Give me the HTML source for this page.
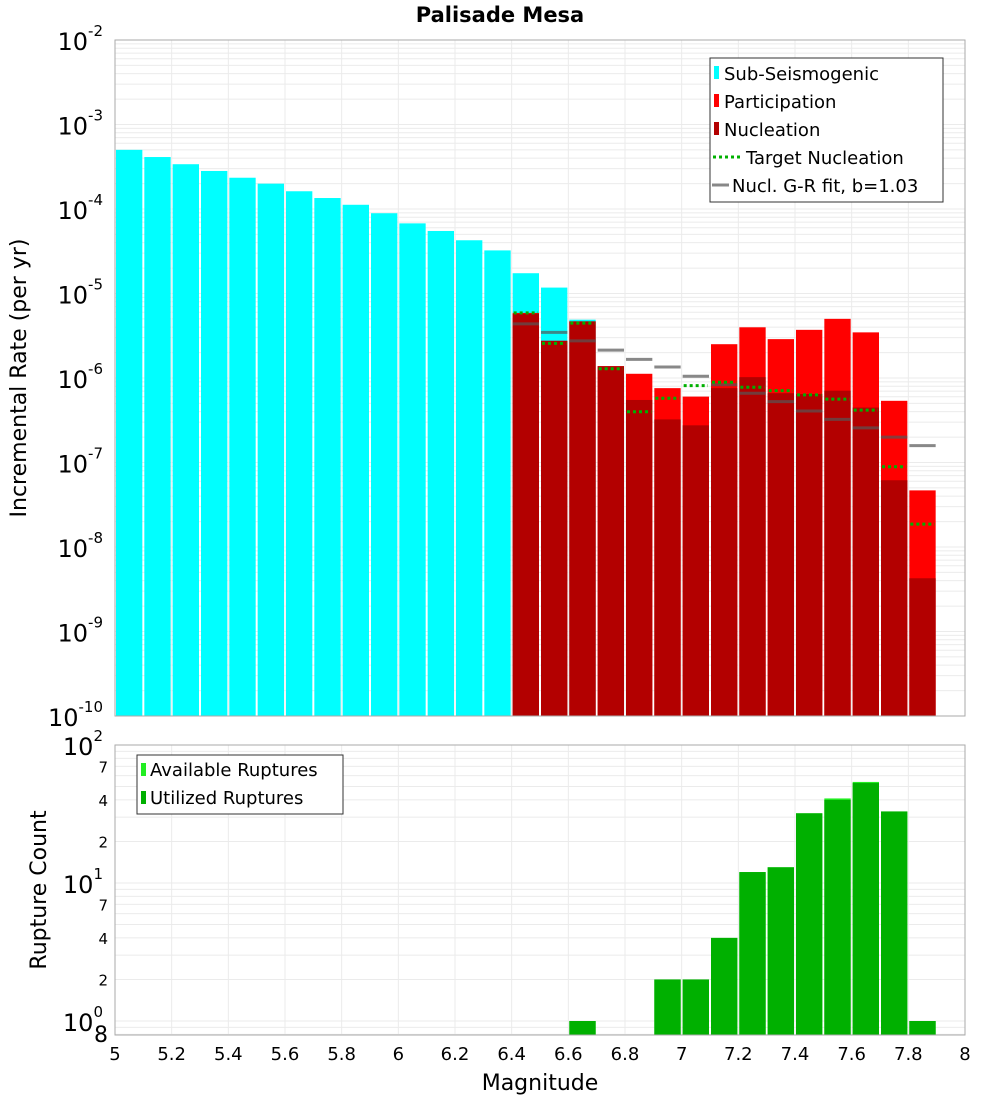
<!DOCTYPE html>
<html><head><meta charset="utf-8"><style>
body{margin:0;background:#fff;}
svg{display:block;font-family:"DejaVu Sans","Liberation Sans",sans-serif;}
</style></head><body>
<svg id="chart" width="1000" height="1100" viewBox="0 0 1000 1100" xmlns="http://www.w3.org/2000/svg">
<text x="500" y="22" text-anchor="middle" font-size="21" font-weight="bold">Palisade Mesa</text>
<g id="topg"></g>
<g id="botg"></g>
</svg>
<script>
const mags=[5.0,5.1,5.2,5.3,5.4,5.5,5.6,5.7,5.8,5.9,6.0,6.1,6.2,6.3,6.4,6.5,6.6,6.7,6.8,6.9,7.0,7.1,7.2,7.3,7.4,7.5,7.6,7.7,7.8];
const subSeisLog=[-3.30,-3.385,-3.47,-3.55,-3.63,-3.70,-3.79,-3.87,-3.95,-4.05,-4.17,-4.26,-4.37,-4.49,-4.76,-4.93,-5.31];
const superMags=[6.4,6.5,6.6,6.7,6.8,6.9,7.0,7.1,7.2,7.3,7.4,7.5,7.6,7.7,7.8];
const participationLog=[-5.23,-5.56,-5.33,-5.86,-5.95,-6.12,-6.22,-5.60,-5.40,-5.54,-5.43,-5.30,-5.46,-6.27,-7.33];
const nucleationLog=[-5.24,-5.56,-5.33,-5.86,-6.26,-6.49,-6.56,-6.12,-5.99,-6.18,-6.19,-6.15,-6.35,-7.21,-8.37];
const targetLog=[-5.23,-5.59,-5.35,-5.89,-6.40,-6.24,-6.09,-6.05,-6.11,-6.15,-6.20,-6.25,-6.38,-7.05,-7.73];
const grLog=[-5.36,-5.46,-5.56,-5.67,-5.78,-5.87,-5.98,-6.08,-6.18,-6.28,-6.39,-6.49,-6.59,-6.70,-6.80];
const countMags=[6.6,6.9,7.0,7.1,7.2,7.3,7.4,7.5,7.6,7.7,7.8];
const availableCounts=[1,2,2,4,12,13,32,41,54,33,1];
const utilizedCounts=[1,2,2,4,12,13,32,40,53,33,1];
const xTicks=[5,5.2,5.4,5.6,5.8,6,6.2,6.4,6.6,6.8,7,7.2,7.4,7.6,7.8,8];

const NS="http://www.w3.org/2000/svg";
const X0=115,X1=965;
const xs=m=>X0+(m-5)*(X1-X0)/3;
const TY0=40,TY1=716;
const ty=l=>TY0+(-2-l)*(TY1-TY0)/8;
const BY0=745,BDEC=138;
const by=v=>BY0+(2-Math.log10(v))*BDEC;
const BY1=1035;
function mk(p,tag,at,txt){const e=document.createElementNS(NS,tag);for(const k in at)e.setAttribute(k,at[k]);if(txt!==undefined)e.textContent=txt;p.appendChild(e);return e;}
const topG=document.getElementById('topg'),botG=document.getElementById('botg');

for(let d=-10;d<-2;d++){for(let k=1;k<10;k++){const y=ty(d+Math.log10(k));const g=mk(topG,'line',{x1:X0,x2:X1,y1:y,y2:y,stroke:'#ebebeb','stroke-width':1});}}
xTicks.forEach(t=>{const g=mk(topG,'line',{x1:xs(t),x2:xs(t),y1:TY0,y2:TY1,stroke:'#ebebeb'});});
const bw=(X1-X0)/30;
function bar(p,m,yTop,yBot,fill,name){const r=mk(p,'rect',{x:xs(m)+1,y:yTop,width:bw-2,height:Math.max(0,yBot-yTop),fill:fill});}
subSeisLog.forEach((l,i)=>bar(topG,mags[i],ty(l),TY1,'#00ffff','sub-seismogenic-bar'));
participationLog.forEach((l,i)=>bar(topG,superMags[i],ty(l),TY1,'#ff0000','participation-bar'));
nucleationLog.forEach((l,i)=>bar(topG,superMags[i],ty(l),TY1,'#b30000','nucleation-bar'));
grLog.forEach((l,i)=>{const y=ty(l);const e=mk(topG,'line',{x1:xs(superMags[i])+1,x2:xs(superMags[i])+bw-1,y1:y,y2:y,stroke:'#555','stroke-opacity':0.7,'stroke-width':3});});
targetLog.forEach((l,i)=>{const y=ty(l);const e=mk(topG,'line',{x1:xs(superMags[i])+2,x2:xs(superMags[i])+bw-2,y1:y,y2:y,stroke:'#00b000','stroke-width':3,'stroke-dasharray':'3,3'});});
mk(topG,'rect',{x:X0,y:TY0,width:X1-X0,height:TY1-TY0,fill:'none',stroke:'#aaa',});
for(let d=-10;d<=-2;d++){const y=ty(d);const t=mk(topG,'text',{x:103,y:y+10,'text-anchor':'end','font-size':24});t.textContent='10';mk(t,'tspan',{dy:-14,'font-size':15},String(d));}
mk(topG,'text',{transform:'translate(26,378) rotate(-90)','text-anchor':'middle','font-size':22,},'Incremental Rate (per yr)');
const lg=mk(topG,'g',{});
mk(lg,'rect',{x:710,y:58,width:233,height:144,fill:'#fff',stroke:'#333'});
[['Sub-Seismogenic','#00ffff'],['Participation','#ff0000'],['Nucleation','#b30000']].forEach((e,i)=>{const y=73+i*28;mk(lg,'rect',{x:714,y:y-7,width:5,height:13,fill:e[1]});mk(lg,'text',{x:724,y:y+7,'font-size':18,},e[0]);});
mk(lg,'line',{x1:713,x2:740,y1:157,y2:157,stroke:'#00b000','stroke-width':3,'stroke-dasharray':'3,3'});
mk(lg,'text',{x:746,y:164,'font-size':18,},'Target Nucleation');
mk(lg,'line',{x1:712,x2:729,y1:185,y2:185,stroke:'#888','stroke-width':3});
mk(lg,'text',{x:732,y:192,'font-size':18,},'Nucl. G-R fit, b=1.03');

for(let d=-1;d<2;d++){for(let k=1;k<10;k++){const v=Math.pow(10,d)*k;if(v<0.79)continue;const y=by(v);mk(botG,'line',{x1:X0,x2:X1,y1:y,y2:y,stroke:'#ebebeb',});}}
xTicks.forEach(t=>mk(botG,'line',{x1:xs(t),x2:xs(t),y1:BY0,y2:BY1,stroke:'#ebebeb',}));
availableCounts.forEach((v,i)=>bar(botG,countMags[i],by(v),BY1,'#22ee22','available-bar'));
utilizedCounts.forEach((v,i)=>bar(botG,countMags[i],by(v),BY1,'#00b000','utilized-bar'));
mk(botG,'rect',{x:X0,y:BY0,width:X1-X0,height:BY1-BY0,fill:'none',stroke:'#aaa',});
[2,1,0].forEach(d=>{const y=by(Math.pow(10,d));const t=mk(botG,'text',{x:103,y:y+10,'text-anchor':'end','font-size':24});t.textContent='10';mk(t,'tspan',{dy:-14,'font-size':15},String(d));});
[[7,10],[4,10],[2,10],[7,1],[4,1],[2,1]].forEach(a=>{const v=a[0]*a[1];mk(botG,'text',{x:108,y:by(v)+6,'text-anchor':'end','font-size':15,},String(a[0]));});
mk(botG,'text',{x:108,y:1042,'text-anchor':'end','font-size':22,},'8');
mk(botG,'text',{transform:'translate(46,890) rotate(-90)','text-anchor':'middle','font-size':22,},'Rupture Count');
const bl=mk(botG,'g',{});
mk(bl,'rect',{x:137,y:755,width:206,height:59,fill:'#fff',stroke:'#333'});
mk(bl,'rect',{x:141,y:763,width:5,height:13,fill:'#22ee22'});
mk(bl,'text',{x:150,y:776,'font-size':18,},'Available Ruptures');
mk(bl,'rect',{x:141,y:791,width:5,height:13,fill:'#00b000'});
mk(bl,'text',{x:150,y:804,'font-size':18,},'Utilized Ruptures');
xTicks.forEach(t=>mk(botG,'text',{x:xs(t),y:1060,'text-anchor':'middle','font-size':18,},String(t)));
mk(botG,'text',{x:540,y:1090,'text-anchor':'middle','font-size':22,},'Magnitude');
</script>
</body></html>
